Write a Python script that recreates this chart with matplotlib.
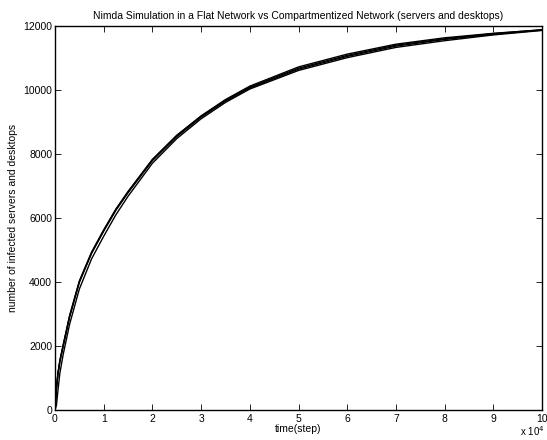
import matplotlib
matplotlib.use("Agg")
import matplotlib.pyplot as plt
from matplotlib.ticker import FuncFormatter

plt.rcParams['font.family'] = ['Liberation Sans', 'DejaVu Sans']

# time steps
steps = [0, 300, 600, 1000, 1700, 3000, 5000, 7500, 10000, 12500, 15000,
         20000, 25000, 30000, 35000, 40000, 50000, 60000, 70000, 80000,
         90000, 100000]
# infected counts for each simulation run
run_a = [0, 700, 1150, 1550, 2050, 2950, 4030, 4930, 5630, 6280, 6830,
         7830, 8580, 9180, 9680, 10090, 10680, 11080, 11400, 11600, 11760, 11880]
run_b = [0, 650, 1100, 1500, 2000, 2900, 3990, 4890, 5590, 6240, 6790,
         7790, 8540, 9150, 9650, 10060, 10650, 11050, 11370, 11580, 11740, 11870]
run_c = [0, 150, 600, 1150, 1750, 2680, 3780, 4720, 5430, 6100, 6680,
         7710, 8480, 9100, 9610, 10030, 10610, 11010, 11330, 11540, 11720, 11860]
run_d = [0, 680, 1130, 1530, 2030, 2930, 4010, 4910, 5610, 6260, 6810,
         7820, 8580, 9190, 9700, 10120, 10720, 11120, 11430, 11630, 11770, 11880]
runs = [run_a, run_b, run_c, run_d]

xticks = list(range(0, 100001, 10000))
yticks = list(range(0, 12001, 2000))

fig = plt.figure(figsize=(5.47, 4.40), dpi=100)
ax = fig.add_axes([0.1005, 0.068, 0.8905, 0.873])

for r in runs:
    ax.plot(steps, r, color='black', lw=1.0)

ax.set_xlim(0, 100000)
ax.set_ylim(0, 12000)
ax.set_xticks(xticks)
ax.set_yticks(yticks)
ax.xaxis.set_major_formatter(FuncFormatter(lambda v, p: f"{v/1e4:g}"))
ax.tick_params(direction='in', length=4, width=0.6, top=True, right=True,
               labelsize=7.5, pad=2)
ax.tick_params(axis='x', pad=3)
for s in ax.spines.values():
    s.set_linewidth(1.0)

ax.set_title("Nimda Simulation in a Flat Network vs Compartmentized Network (servers and desktops)",
             fontsize=7.5, pad=5)
ax.set_xlabel("time(step)", fontsize=7.5, labelpad=0)
ax.set_ylabel("number of infected servers and desktops", fontsize=7.5, labelpad=4)
fig.text(0.995, 0.004, r"x 10$^{4}$", fontsize=7, ha='right', va='bottom')

fig.savefig("out.png", dpi=100)
